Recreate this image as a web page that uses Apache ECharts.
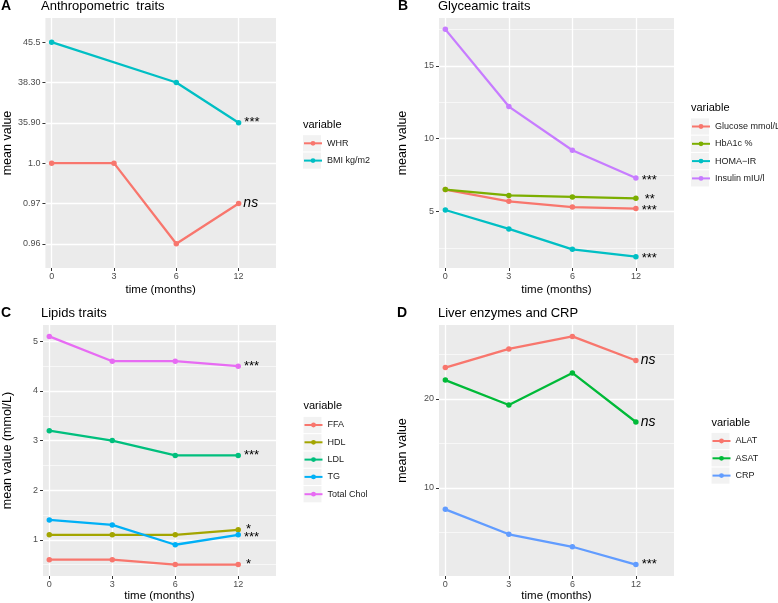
<!DOCTYPE html>
<html><head><meta charset="utf-8">
<script src="https://cdn.jsdelivr.net/npm/echarts@6/dist/echarts.min.js"></script>
<style>html,body{margin:0;padding:0;background:#fff}#c{width:778px;height:603px}</style>
</head><body><div id="c"></div>
<script>
// ---------- data ----------
const timeLabels = ['0', '3', '6', '12'];

// Panel A (discrete y levels)
const levelsA = ['0.96', '0.97', '1.0', '35.90', '38.30', '45.5'];
const whr = ['1.0', '1.0', '0.96', '0.97'];
const bmi = ['45.5', null, '38.30', '35.90'];

// Panel B
const glucose = [6.5, 5.7, 5.3, 5.2];
const hba1c   = [6.5, 6.1, 6.0, 5.9];
const homa    = [5.1, 3.8, 2.4, 1.9];
const insulin = [17.5, 12.2, 9.2, 7.3];

// Panel C
const ffa   = [0.6, 0.6, 0.5, 0.5];
const hdl   = [1.1, 1.1, 1.1, 1.2];
const ldl   = [3.2, 3.0, 2.7, 2.7];
const tg    = [1.4, 1.3, 0.9, 1.1];
const tchol = [5.1, 4.6, 4.6, 4.5];

// Panel D
const alat = [23.5, 25.6, 27.0, 24.3];
const asat = [22.1, 19.3, 22.9, 17.4];
const crp  = [7.6, 4.8, 3.4, 1.4];

// significance annotations at 12 months
const annotA = ['ns', '***'];
const annotB = ['***', '**', '***', '***'];
const annotC = ['*', '*', '***', '***', '***'];
const annotD = ['ns', 'ns', '***'];

// tick values
const ticksB = [5, 10, 15], minorB = [2.5, 7.5, 12.5, 17.5];
const ticksC = [1, 2, 3, 4, 5], minorC = [0.5, 1.5, 2.5, 3.5, 4.5];
const ticksD = [10, 20], minorD = [5, 15, 25];

// ---------- styling / layout ----------
const FONT = '"Liberation Sans", Arial, Helvetica, sans-serif';
const BG = '#EBEBEB';
const grids = [
  {left: 40,  top: 18,  width: 236, height: 250},
  {left: 439, top: 18,  width: 235, height: 250},
  {left: 40,  top: 325, width: 236, height: 251},
  {left: 439, top: 325, width: 235, height: 251}
];
const xIdx = timeLabels.map((_, i) => i);

function xAxis(g, gap) {
  return {
    type: 'value', gridIndex: g, min: -0.1, max: 3.6,
    name: 'time (months)', nameLocation: 'middle', nameGap: gap,
    nameTextStyle: {fontSize: 11.5, color: '#000', fontFamily: FONT},
    axisLine: {show: false, onZero: false},
    axisTick: {show: true, length: 3, customValues: xIdx, lineStyle: {color: '#333', width: 1}},
    axisLabel: {customValues: xIdx, formatter: v => timeLabels[v], fontSize: 9, color: '#4D4D4D', margin: 4, fontFamily: FONT},
    splitLine: {show: true, lineStyle: {color: '#fff', width: 1.3}}
  };
}
function yAxis(g, min, max, ticks, name, fmt, gap) {
  return {
    type: 'value', gridIndex: g, min, max, position: 'left',
    name, nameLocation: 'middle', nameGap: gap,
    nameTextStyle: {fontSize: 12.5, color: '#000', fontFamily: FONT},
    axisLine: {show: false, onZero: false},
    axisTick: {show: true, length: 3, customValues: ticks, lineStyle: {color: '#333', width: 1}},
    axisLabel: {customValues: ticks, formatter: fmt, fontSize: 9, color: '#4D4D4D', margin: 5, fontFamily: FONT},
    splitLine: {show: true, lineStyle: {color: '#fff', width: 1.3}}
  };
}
function yMinor(g, min, max, ticks) {
  return {
    type: 'value', gridIndex: g, min, max, position: 'left',
    axisLine: {show: false, onZero: false},
    axisTick: {show: false, customValues: ticks},
    axisLabel: {show: false, customValues: ticks},
    splitLine: {show: true, lineStyle: {color: '#fff', width: 0.6}}
  };
}

const xAxes = [xAxis(0, 16), xAxis(1, 16), xAxis(2, 14), xAxis(3, 14)];
const yAxes = [
  yAxis(0, -0.6, 5.6, levelsA.map((_, i) => i), 'mean value', v => levelsA[v], 29),
  yAxis(1, 1.12, 18.28, ticksB, 'mean value', v => String(v), 30),
  yMinor(1, 1.12, 18.28, minorB),
  yAxis(2, 0.27, 5.33, ticksC, 'mean value (mmol/L)', v => String(v), 29),
  yMinor(2, 0.27, 5.33, minorC),
  yAxis(3, 0.12, 28.28, ticksD, 'mean value', v => String(v), 30),
  yMinor(3, 0.12, 28.28, minorD)
];

function annLabel(text, dx, dy) {
  const ns = text === 'ns';
  return {
    show: true, formatter: text, position: 'right', distance: dx,
    offset: [0, dy], color: '#000', fontFamily: FONT,
    fontSize: ns ? 14 : 13, fontStyle: ns ? 'italic' : 'normal'
  };
}
function mk(name, vals, color, xi, yi, annot, dx, dy) {
  const pts = [];
  vals.forEach((v, i) => {
    if (v === null || v === undefined) return;
    const item = {value: [i, v]};
    if (i === vals.length - 1) item.label = annLabel(annot, dx, dy);
    pts.push(item);
  });
  return {
    type: 'line', name, xAxisIndex: xi, yAxisIndex: yi, data: pts,
    symbol: 'circle', symbolSize: 5.5, color,
    lineStyle: {width: 2.3, color}, itemStyle: {color},
    emphasis: {disabled: true}, animation: false, z: 3
  };
}
const lvl = arr => arr.map(v => v === null ? null : levelsA.indexOf(v));

const series = [
  mk('WHR', lvl(whr), '#F8766D', 0, 0, annotA[0], 2, 0),
  mk('BMI kg/m2', lvl(bmi), '#00BFC4', 0, 0, annotA[1], 3, 0),

  mk('Glucose mmol/L', glucose, '#F8766D', 1, 1, annotB[0], 3, 2),
  mk('HbA1c %', hba1c, '#7CAE00', 1, 1, annotB[1], 6, 1.5),
  mk('HOMA\u2212IR', homa, '#00BFC4', 1, 1, annotB[2], 3, 2),
  mk('Insulin mIU/l', insulin, '#C77CFF', 1, 1, annotB[3], 3, 2),

  mk('FFA', ffa, '#F8766D', 2, 3, annotC[0], 5, 0),
  mk('HDL', hdl, '#A3A500', 2, 3, annotC[1], 5, 0),
  mk('LDL', ldl, '#00BF7D', 2, 3, annotC[2], 3, 0),
  mk('TG', tg, '#00B0F6', 2, 3, annotC[3], 3, 3),
  mk('Total Chol', tchol, '#E76BF3', 2, 3, annotC[4], 3, 0),

  mk('ALAT', alat, '#F8766D', 3, 5, annotD[0], 2, 0),
  mk('ASAT', asat, '#00BA38', 3, 5, annotD[1], 2, 0),
  mk('CRP', crp, '#619CFF', 3, 5, annotD[2], 3, 0)
];

// legends
const STEP = 17.3;
const legendDefs = [
  {left: 303,   titleY: 124.7, first: 143.3, names: ['WHR', 'BMI kg/m2']},
  {left: 691,   titleY: 108.3, first: 126.5, names: ['Glucose mmol/L', 'HbA1c %', 'HOMA\u2212IR', 'Insulin mIU/l']},
  {left: 303.5, titleY: 405.7, first: 425,   names: ['FFA', 'HDL', 'LDL', 'TG', 'Total Chol']},
  {left: 711.5, titleY: 422.7, first: 441,   names: ['ALAT', 'ASAT', 'CRP']}
];
const legends = legendDefs.map(d => ({
  orient: 'vertical', left: d.left, top: d.first - 6, padding: 0,
  itemWidth: 18, itemHeight: 6, itemGap: STEP - 12, selectedMode: false,
  textStyle: {fontSize: 9, color: '#1a1a1a', lineHeight: 12, fontFamily: FONT},
  data: d.names
}));

const graphics = [];
legendDefs.forEach(d => {
  graphics.push({type: 'text', x: d.left, y: d.titleY, z: 10,
    style: {text: 'variable', fontSize: 11, fill: '#000', verticalAlign: 'middle', fontFamily: FONT}});
  d.names.forEach((n, i) => {
    graphics.push({type: 'rect', z: 0, shape: {x: d.left, y: d.first + i * STEP - 8.1, width: 18, height: 16.2},
      style: {fill: '#F2F2F2'}});
  });
});
const panelTitles = [
  {letter: 'A', lx: 1,   tx: 41,  y: 6,   text: 'Anthropometric  traits'},
  {letter: 'B', lx: 398, tx: 438, y: 6,   text: 'Glyceamic traits'},
  {letter: 'C', lx: 1,   tx: 41,  y: 313, text: 'Lipids traits'},
  {letter: 'D', lx: 397, tx: 438, y: 313, text: 'Liver enzymes and CRP'}
];
panelTitles.forEach(p => {
  graphics.push({type: 'text', x: p.lx, y: p.y, z: 10,
    style: {text: p.letter, fontSize: 14, fontWeight: 'bold', fill: '#000', verticalAlign: 'middle', fontFamily: FONT}});
  graphics.push({type: 'text', x: p.tx, y: p.y, z: 10,
    style: {text: p.text, fontSize: 13, fill: '#000', verticalAlign: 'middle', fontFamily: FONT}});
});

const chart = echarts.init(document.getElementById('c'), null, {renderer: 'canvas'});
chart.setOption({
  animation: false,
  backgroundColor: '#fff',
  textStyle: {fontFamily: FONT},
  grid: grids.map(g => Object.assign({show: true, backgroundColor: BG, borderWidth: 0, containLabel: false}, g)),
  xAxis: xAxes,
  yAxis: yAxes,
  legend: legends,
  graphic: graphics,
  series
});
</script>
</body></html>
